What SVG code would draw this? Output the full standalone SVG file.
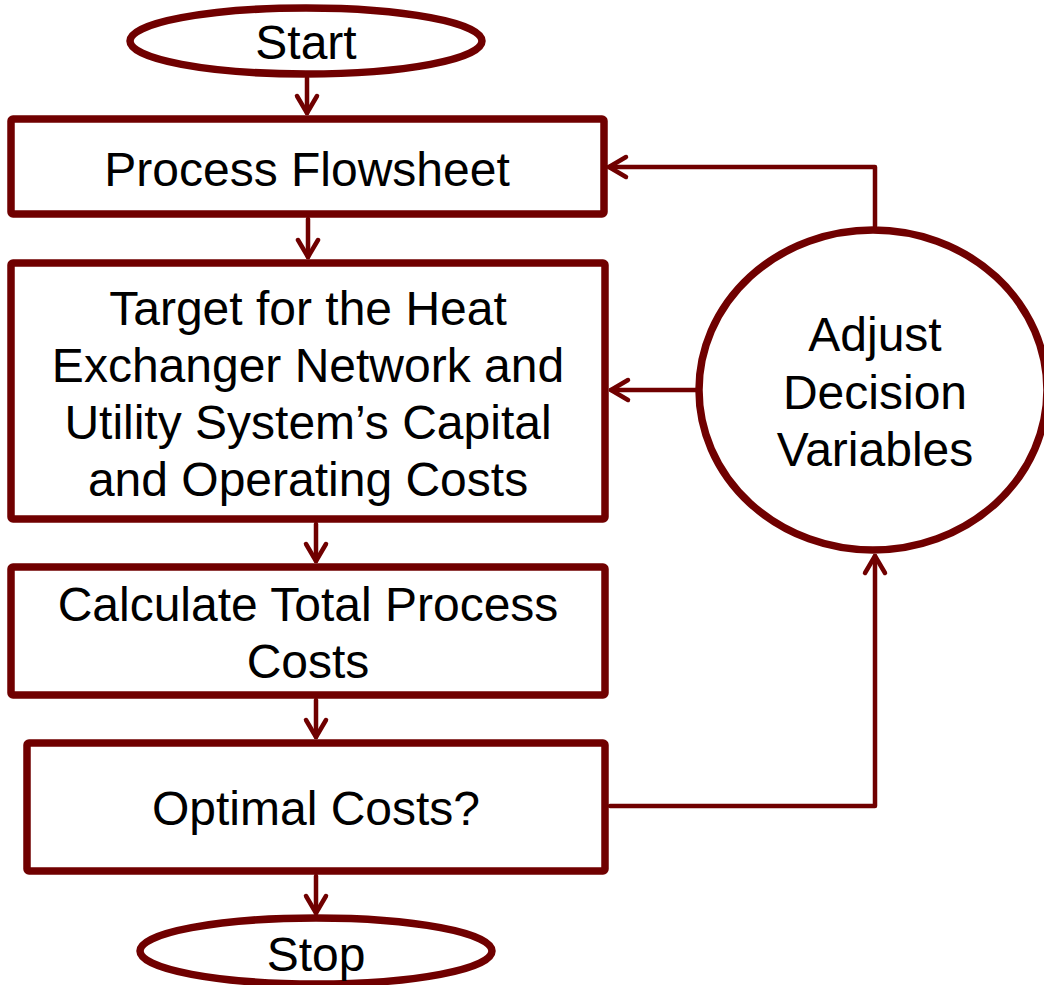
<svg xmlns="http://www.w3.org/2000/svg" width="1044" height="985" viewBox="0 0 1044 985">
  <defs>
    <style>
      .box { fill: #ffffff; stroke: #700000; stroke-width: 7.5; }
      .term { fill: #ffffff; stroke: #700000; stroke-width: 7.5; }
      .link { fill: none; stroke: #700000; stroke-width: 4.5; stroke-linecap: round; stroke-linejoin: round; }
      .lbl { font-family: "Liberation Sans", Arial, sans-serif; font-size: 48px; fill: #000000; text-anchor: middle; }
    </style>
    <marker id="arrow" markerUnits="userSpaceOnUse" markerWidth="40" markerHeight="40" refX="0" refY="0" orient="auto" overflow="visible">
      <path d="M-17,-10 L0,0 L-17,10" fill="none" stroke="#700000" stroke-width="4.5" stroke-linecap="round" stroke-linejoin="round"/>
    </marker>
  </defs>
  <rect width="1044" height="985" fill="#ffffff"/>

  <!-- connectors -->
  <g id="connectors">
    <line class="link" x1="307" y1="78" x2="307" y2="113" marker-end="url(#arrow)"/>
    <line class="link" x1="308" y1="219" x2="308" y2="257" marker-end="url(#arrow)"/>
    <line class="link" x1="316" y1="524" x2="316" y2="561" marker-end="url(#arrow)"/>
    <line class="link" x1="316" y1="700" x2="316" y2="737" marker-end="url(#arrow)"/>
    <line class="link" x1="316" y1="876" x2="316" y2="913" marker-end="url(#arrow)"/>
    <polyline class="link" points="875,226 875,167 609,167" marker-end="url(#arrow)"/>
    <line class="link" x1="697" y1="390" x2="611" y2="390" marker-end="url(#arrow)"/>
    <polyline class="link" points="610,806 875,806 875,556" marker-end="url(#arrow)"/>
  </g>

  <g id="start">
    <ellipse class="term" cx="306" cy="41" rx="176" ry="33"/>
    <text class="lbl" x="306" y="59">Start</text>
  </g>

  <g id="process-flowsheet">
    <rect class="box" x="11" y="119" width="593" height="95" rx="2"/>
    <text class="lbl" x="307" y="186">Process Flowsheet</text>
  </g>

  <g id="target">
    <rect class="box" x="11" y="263" width="594" height="256" rx="2"/>
    <text class="lbl" x="308" y="325">Target for the Heat</text>
    <text class="lbl" x="308" y="382">Exchanger Network and</text>
    <text class="lbl" x="308" y="439">Utility System’s Capital</text>
    <text class="lbl" x="308" y="496">and Operating Costs</text>
  </g>

  <g id="calculate">
    <rect class="box" x="11" y="567" width="594" height="128" rx="2"/>
    <text class="lbl" x="308" y="621">Calculate Total Process</text>
    <text class="lbl" x="308" y="678">Costs</text>
  </g>

  <g id="optimal">
    <rect class="box" x="27" y="743" width="578" height="128" rx="2"/>
    <text class="lbl" x="316" y="825">Optimal Costs?</text>
  </g>

  <g id="stop">
    <ellipse class="term" cx="316" cy="951" rx="176" ry="33"/>
    <text class="lbl" x="316" y="971">Stop</text>
  </g>

  <g id="adjust">
    <ellipse class="term" cx="873" cy="390" rx="174" ry="160"/>
    <text class="lbl" x="875" y="351">Adjust</text>
    <text class="lbl" x="875" y="409">Decision</text>
    <text class="lbl" x="875" y="466">Variables</text>
  </g>
</svg>
